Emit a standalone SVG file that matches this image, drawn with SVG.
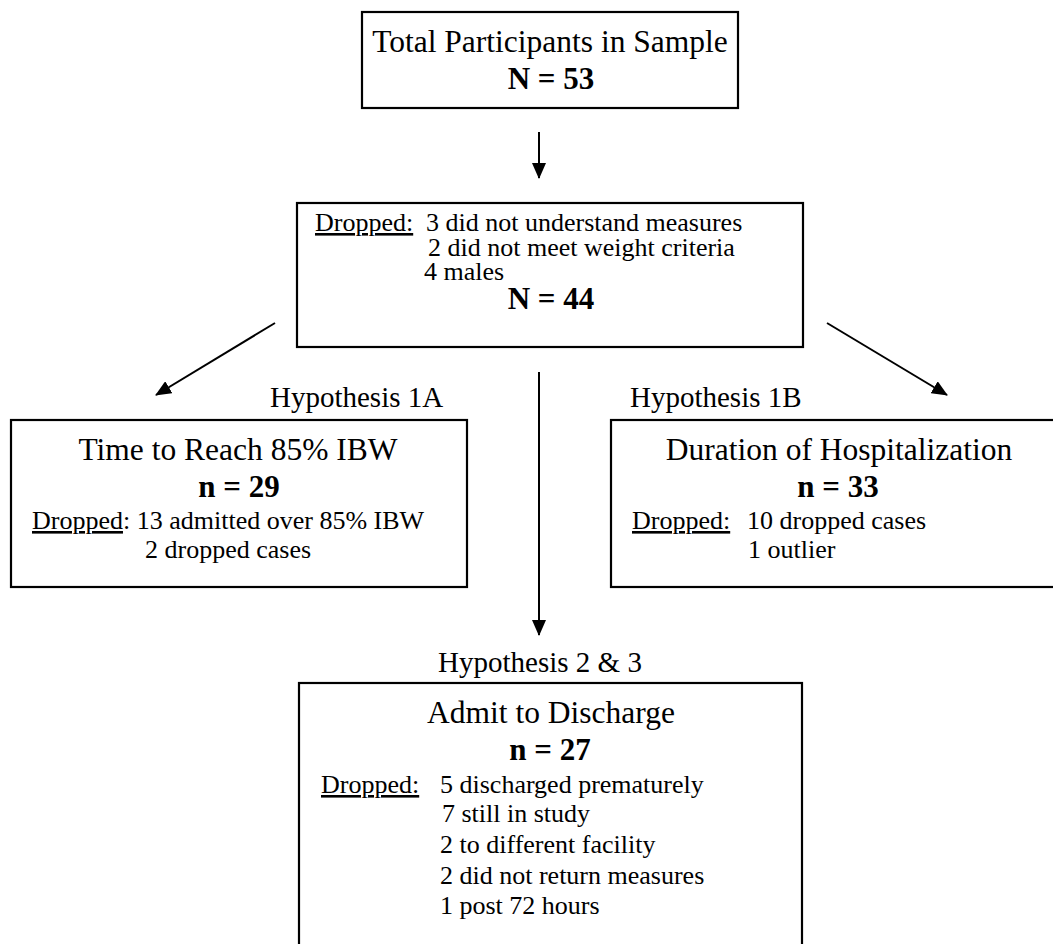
<svg xmlns="http://www.w3.org/2000/svg" width="1053" height="944" viewBox="0 0 1053 944">
<style>
.box{fill:#fff;stroke:#000;stroke-width:2.2}
.t{font-family:"Liberation Serif","Times New Roman",serif;fill:#000}
.c{text-anchor:middle}
.b{font-weight:bold}
.u{text-decoration:underline}
.ti{font-size:31.5px}
.bd{font-size:26px}
.hy{font-size:29px}
.nn{font-size:31px;font-weight:bold}
.con{stroke:#000;stroke-width:2;fill:none}
</style>
<defs>
<marker id="ah" viewBox="0 0 16 14" refX="15" refY="7" markerWidth="16" markerHeight="14" markerUnits="userSpaceOnUse" orient="auto">
<path d="M0,0 L16,7 L0,14 Z" fill="#000"/>
</marker>
</defs>
<rect width="1053" height="944" fill="#fff"/>
<g id="connectors">
<line class="con" x1="539" y1="132" x2="539" y2="178" marker-end="url(#ah)"/>
<line class="con" x1="275" y1="323" x2="156" y2="395" marker-end="url(#ah)"/>
<line class="con" x1="827" y1="323" x2="947" y2="395" marker-end="url(#ah)"/>
<line class="con" x1="539" y1="372" x2="539" y2="635" marker-end="url(#ah)"/>
</g>
<g id="total">
<rect class="box" x="362" y="12" width="376" height="96"/>
<text class="t c ti" x="550" y="52">Total Participants in Sample</text>
<text class="t c nn" x="551" y="89">N = 53</text>
</g>
<g id="dropped">
<rect class="box" x="297" y="203" width="506" height="144"/>
<text class="t bd" x="315" y="231"><tspan class="u">Dropped:</tspan></text>
<text class="t bd" x="426" y="231">3 did not understand measures</text>
<text class="t bd" x="428" y="256">2 did not meet weight criteria</text>
<text class="t bd" x="424" y="280">4 males</text>
<text class="t c nn" x="551" y="309">N = 44</text>
</g>
<g id="h1a">
<text class="t hy" x="270" y="407">Hypothesis 1A</text>
<rect class="box" x="11" y="420" width="456" height="167"/>
<text class="t c ti" x="238" y="460">Time to Reach 85% IBW</text>
<text class="t c nn" x="239" y="497">n = 29</text>
<text class="t bd" x="32" y="529"><tspan class="u">Dropped</tspan>: 13 admitted over 85% IBW</text>
<text class="t bd" x="145" y="558">2 dropped cases</text>
</g>
<g id="h1b">
<text class="t hy" x="630" y="407">Hypothesis 1B</text>
<rect class="box" x="611" y="420" width="460" height="167"/>
<text class="t c ti" x="839" y="460">Duration of Hospitalization</text>
<text class="t c nn" x="838" y="497">n = 33</text>
<text class="t bd" x="632" y="529"><tspan class="u">Dropped:</tspan></text>
<text class="t bd" x="747" y="529">10 dropped cases</text>
<text class="t bd" x="748" y="558">1 outlier</text>
</g>
<g id="h23">
<text class="t c hy" x="540" y="672">Hypothesis 2 &amp; 3</text>
<rect class="box" x="299" y="683" width="503" height="280"/>
<text class="t c ti" x="551" y="723">Admit to Discharge</text>
<text class="t c nn" x="550" y="760">n = 27</text>
<text class="t bd" x="321" y="793"><tspan class="u">Dropped:</tspan></text>
<text class="t bd" x="440" y="793">5 discharged prematurely</text>
<text class="t bd" x="442" y="822">7 still in study</text>
<text class="t bd" x="440" y="853">2 to different facility</text>
<text class="t bd" x="440" y="884">2 did not return measures</text>
<text class="t bd" x="440" y="914">1 post 72 hours</text>
</g>
</svg>
